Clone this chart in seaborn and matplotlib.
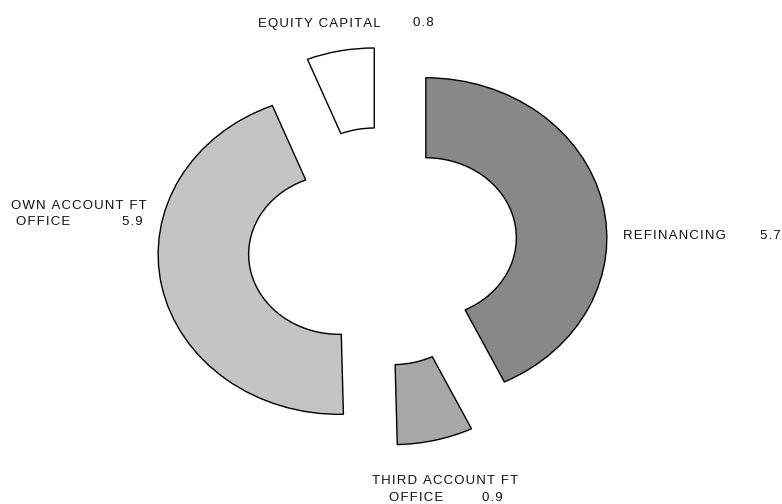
import matplotlib
matplotlib.use("Agg")
import matplotlib.pyplot as plt
import seaborn as sns

# data
categories = ["REFINANCING", "THIRD ACCOUNT FT\nOFFICE", "OWN ACCOUNT FT\nOFFICE", "EQUITY CAPITAL"]
values = [5.7, 0.9, 5.9, 0.8]
value_labels = ["5.7", "0.9", "5.9", "0.8"]
colors = ["#888888", "#a8a8a8", "#c4c4c4", "#ffffff"]

sns.set_theme(style="white")
plt.rcParams["font.family"] = ["Liberation Sans", "DejaVu Sans"]

W, H = 782, 504
fig = plt.figure(figsize=(W / 100, H / 100), dpi=100)
ax = fig.add_axes([0, 0, 1, 1])

ax.pie(values, colors=colors, startangle=90, counterclock=False,
       explode=[0.245] * len(values), radius=1.0,
       wedgeprops=dict(width=0.5, edgecolor="black", linewidth=1.0))

# the original is drawn stretched sideways (not equal aspect)
cx, cy, sx, sy = 382.6, 246.5, 181.0, 160.0
ax.set_aspect("auto")
ax.set_xlim(-cx / sx, (W - cx) / sx)
ax.set_ylim(-(H - cy) / sy, cy / sy)
ax.axis("off")


def spaced(s):
    # the source uses wide letter spacing
    return "\u200a".join(s)


# label layout in pixels: (name lines with left x / centre y), value left x / centre y
layout = [
    ([(623, 236)], (760, 236)),
    ([(372, 481), (389, 498)], (482, 498)),
    ([(11, 206), (16, 222)], (122, 222)),
    ([(258, 23.5)], (413, 23.5)),
]

for name, val, (lines, vpos) in zip(categories, value_labels, layout):
    for part, (px, py) in zip(name.split("\n"), lines):
        fig.text(px / W, 1 - py / H, spaced(part), ha="left", va="center",
                 fontsize=9.5, color="#111111")
    fig.text(vpos[0] / W, 1 - vpos[1] / H, spaced(val), ha="left", va="center",
             fontsize=9.5, color="#111111")

fig.savefig("out.png", dpi=100, facecolor="white")
